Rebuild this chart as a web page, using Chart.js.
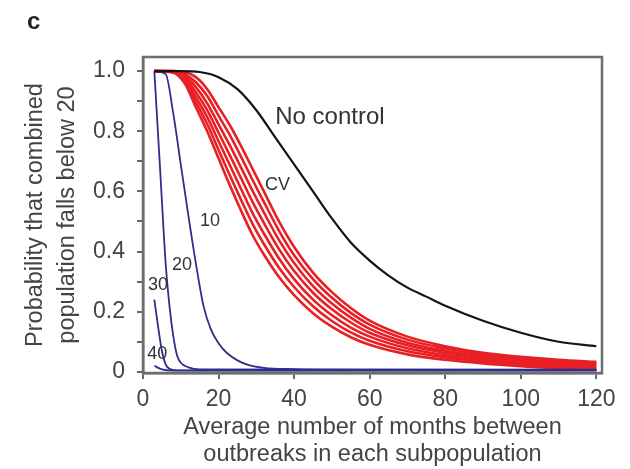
<!DOCTYPE html>
<html>
<head>
<meta charset="utf-8">
<script src="https://cdn.jsdelivr.net/npm/chart.js@4/dist/chart.umd.min.js"></script>
<style>
  html, body { margin: 0; padding: 0; background: #fff; }
  canvas { display: block; }
</style>
</head>
<body>
<canvas id="chart" width="630" height="469"></canvas>
<script>
// Axis ticks
const xTicks = [0, 20, 40, 60, 80, 100, 120];
const yTicks = [0, 0.1, 0.2, 0.3, 0.4, 0.5, 0.6, 0.7, 0.8, 0.9, 1.0];
const yTickLabels = ['0', '', '0.2', '', '0.4', '', '0.6', '', '0.8', '', '1.0'];

// No control (black)
const noControlX = [3, 10, 15, 20, 25, 30, 35, 40, 45, 50, 55, 60, 65, 70, 75, 80, 90, 100, 110, 120];
const noControlY = [1.0, 1.0, 0.997, 0.98, 0.94, 0.87, 0.78, 0.69, 0.60, 0.51, 0.43, 0.37, 0.32, 0.28, 0.25, 0.22, 0.17, 0.13, 0.10, 0.085];

// CV strategies (red band)
const cvX = [3, 8, 11, 14, 17, 20, 23, 26, 29, 32, 36, 40, 45, 50, 55, 60, 70, 80, 90, 100, 110, 120];
const cv1 = [1.0, 0.995, 0.96, 0.88, 0.80, 0.71, 0.62, 0.535, 0.455, 0.39, 0.315, 0.255, 0.195, 0.15, 0.115, 0.09, 0.058, 0.04, 0.028, 0.019, 0.012, 0.008];
const cv2 = [1.0, 0.996, 0.967, 0.897, 0.824, 0.738, 0.653, 0.571, 0.492, 0.425, 0.346, 0.282, 0.218, 0.169, 0.131, 0.103, 0.068, 0.048, 0.034, 0.024, 0.017, 0.012];
const cv3 = [1.0, 0.997, 0.972, 0.913, 0.847, 0.767, 0.687, 0.607, 0.528, 0.46, 0.377, 0.308, 0.24, 0.188, 0.147, 0.117, 0.078, 0.055, 0.039, 0.029, 0.021, 0.016];
const cv4 = [1.0, 0.998, 0.979, 0.93, 0.87, 0.795, 0.72, 0.643, 0.565, 0.495, 0.408, 0.335, 0.263, 0.208, 0.164, 0.13, 0.088, 0.063, 0.046, 0.034, 0.026, 0.021];
const cv5 = [1.0, 0.999, 0.985, 0.947, 0.893, 0.823, 0.753, 0.678, 0.602, 0.53, 0.438, 0.362, 0.285, 0.227, 0.18, 0.143, 0.097, 0.07, 0.051, 0.04, 0.031, 0.025];
const cv6 = [1.0, 1.0, 0.991, 0.963, 0.917, 0.852, 0.787, 0.714, 0.638, 0.565, 0.469, 0.388, 0.308, 0.246, 0.196, 0.157, 0.107, 0.078, 0.057, 0.045, 0.035, 0.029];
const cv7 = [1.0, 1.0, 0.997, 0.98, 0.94, 0.88, 0.82, 0.75, 0.675, 0.60, 0.50, 0.415, 0.33, 0.265, 0.212, 0.17, 0.117, 0.085, 0.063, 0.05, 0.04, 0.033];

// Fixed control levels (blue)
const ctl10X = [3, 6, 8, 10, 12, 14, 16, 18, 20, 22, 25, 28, 32, 40, 60, 120];
const ctl10Y = [1.0, 0.99, 0.86, 0.69, 0.52, 0.36, 0.22, 0.14, 0.095, 0.065, 0.038, 0.022, 0.013, 0.009, 0.007, 0.007];
const ctl20X = [3, 4.5, 6, 7, 8, 9, 10, 12, 15, 120];
const ctl20Y = [1.0, 0.68, 0.36, 0.22, 0.12, 0.055, 0.03, 0.015, 0.008, 0.006];
const ctl30X = [3, 4, 5, 6, 7, 9, 120];
const ctl30Y = [0.24, 0.15, 0.07, 0.025, 0.01, 0.005, 0.005];
const ctl40X = [3, 5, 8, 120];
const ctl40Y = [0.02, 0.008, 0.004, 0.004];

Chart.defaults.font.family = '"Liberation Sans", Arial, Helvetica, sans-serif';
Chart.defaults.color = '#444';

const RED = 'rgb(232, 32, 38)';
const BLUE = 'rgb(46, 46, 140)';

function series(label, xs, ys, color, width) {
    return {
        label: label,
        data: xs.map((x, i) => ({ x: x, y: ys[i] })),
        borderColor: color,
        borderWidth: width,
        pointRadius: 0,
        fill: false,
        cubicInterpolationMode: 'monotone',
    };
}

const datasets = [
    series('No control', noControlX, noControlY, '#141414', 2.2),
    series('10', ctl10X, ctl10Y, BLUE, 1.8),
    series('20', ctl20X, ctl20Y, BLUE, 1.8),
    series('30', ctl30X, ctl30Y, BLUE, 1.8),
    series('40', ctl40X, ctl40Y, BLUE, 1.8),
];
[cv1, cv2, cv3, cv4, cv5, cv6, cv7].forEach((ys, i) => {
    datasets.push(series('CV ' + (i + 1), cvX, ys, RED, 2.6));
});

// box round the plot
const frame = {
    id: 'frame',
    afterDatasetsDraw(chart) {
        const { ctx, chartArea: a } = chart;
        ctx.save();
        ctx.strokeStyle = '#6e6e6e';
        ctx.lineWidth = 2.5;
        ctx.strokeRect(a.left, a.top, a.right - a.left, a.bottom - a.top);
        ctx.restore();
    },
};

// curve labels and panel letter
const notes = [
    { text: 'No control', x: 35, y: 0.847, size: 24 },
    { text: 'CV', x: 32.3, y: 0.62, size: 18 },
    { text: '10', x: 15.1, y: 0.50, size: 18 },
    { text: '20', x: 7.7, y: 0.355, size: 18 },
    { text: '30', x: 1.3, y: 0.29, size: 18 },
    { text: '40', x: 1.1, y: 0.06, size: 18 },
];
const labels = {
    id: 'labels',
    afterDraw(chart) {
        const { ctx, scales } = chart;
        ctx.save();
        ctx.fillStyle = '#333';
        ctx.textAlign = 'left';
        ctx.textBaseline = 'middle';
        notes.forEach((n) => {
            ctx.font = n.size + 'px "Liberation Sans", Arial, sans-serif';
            ctx.fillText(n.text, scales.x.getPixelForValue(n.x), scales.y.getPixelForValue(n.y));
        });
        ctx.font = 'bold 24px "Liberation Sans", Arial, sans-serif';
        ctx.fillStyle = '#222';
        ctx.fillText('c', 27, 22);
        ctx.restore();
    },
};

new Chart(document.getElementById('chart'), {
    type: 'line',
    data: { datasets: datasets },
    plugins: [frame, labels],
    options: {
        responsive: false,
        animation: false,
        layout: { padding: { top: 57, right: 28, left: 0, bottom: 0 } },
        plugins: {
            legend: { display: false },
            tooltip: { enabled: false },
        },
        scales: {
            x: {
                type: 'linear',
                min: 0,
                max: 121.5,
                afterFit: (s) => { s.height = 96; },
                afterBuildTicks: (s) => { s.ticks = xTicks.map((v) => ({ value: v })); },
                ticks: {
                    font: { size: 23 },
                    color: '#444',
                    padding: 7,
                    maxRotation: 0,
                    autoSkip: false,
                    callback: (v) => String(v),
                },
                grid: { drawOnChartArea: false, tickLength: 6, color: '#666', lineWidth: 2 },
                border: { color: '#6e6e6e', width: 2.5 },
                title: {
                    display: true,
                    text: ['Average number of months between', 'outbreaks in each subpopulation'],
                    font: { size: 23.5, lineHeight: 1.15 },
                    color: '#444',
                    padding: { top: 0, bottom: 1 },
                },
            },
            y: {
                min: -0.004,
                max: 1.047,
                afterFit: (s) => { s.width = 143; },
                afterBuildTicks: (s) => { s.ticks = yTicks.map((v) => ({ value: v })); },
                ticks: {
                    font: { size: 23 },
                    color: '#444',
                    padding: 12,
                    autoSkip: false,
                    callback: (v, i) => yTickLabels[i],
                },
                grid: { drawOnChartArea: false, tickLength: 6, color: '#666', lineWidth: 2 },
                border: { color: '#6e6e6e', width: 2.5 },
                title: {
                    display: true,
                    text: ['Probability that combined', 'population falls below 20'],
                    font: { size: 23.5, lineHeight: 1.36 },
                    color: '#444',
                    padding: { top: 20, bottom: 0 },
                },
            },
        },
    },
});
</script>
</body>
</html>
